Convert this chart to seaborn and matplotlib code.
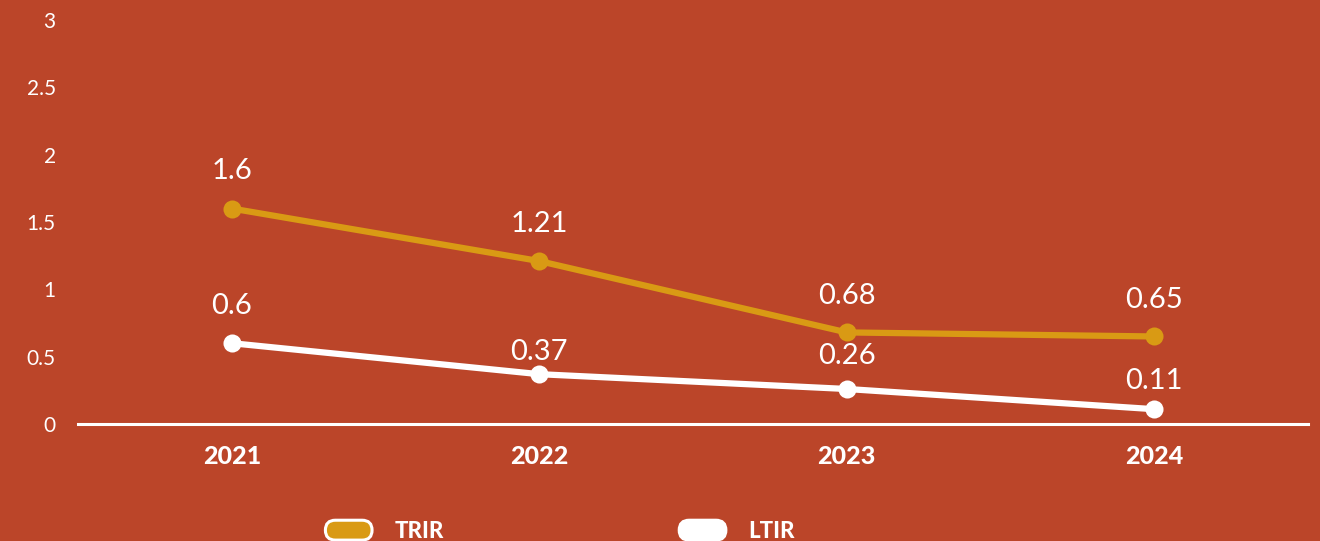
import pandas as pd
import matplotlib.pyplot as plt
import matplotlib.ticker as mticker
from matplotlib.patches import FancyBboxPatch
from matplotlib.legend_handler import HandlerPatch
from matplotlib.patches import Patch
import seaborn as sns

# data
YEARS = ["2021", "2022", "2023", "2024"]
TRIR = [1.6, 1.21, 0.68, 0.65]
LTIR = [0.6, 0.37, 0.26, 0.11]
VALUE_LABELS_TRIR = ["1.6", "1.21", "0.68", "0.65"]
VALUE_LABELS_LTIR = ["0.6", "0.37", "0.26", "0.11"]
Y_TICKS = [0, 0.5, 1, 1.5, 2, 2.5, 3]

# style
BG = "#BB4529"
GOLD = "#D99A14"
WHITE = "#FFFFFF"
LABEL_OFFSETS = {"TRIR": [27, 27, 26, 26], "LTIR": [27, 16, 24, 20]}

sns.set_theme(style="white")
plt.rcParams["font.family"] = ["Lato", "DejaVu Sans"]

df = pd.DataFrame({
    "pos": list(range(len(YEARS))) * 2,
    "value": TRIR + LTIR,
    "metric": ["TRIR"] * len(YEARS) + ["LTIR"] * len(YEARS),
})

fig = plt.figure(figsize=(13.2, 5.41), dpi=100, facecolor=BG)
ax = fig.add_axes([78 / 1320, 1 - 424 / 541, 1230 / 1320, 404 / 541])
ax.set_facecolor(BG)

sns.lineplot(data=df, x="pos", y="value", hue="metric",
             palette={"TRIR": GOLD, "LTIR": WHITE}, hue_order=["TRIR", "LTIR"],
             marker="o", markersize=13, markeredgewidth=0, linewidth=4.5,
             legend=False, ax=ax, zorder=3)

for name, vals, labs in [("TRIR", TRIR, VALUE_LABELS_TRIR),
                         ("LTIR", LTIR, VALUE_LABELS_LTIR)]:
    for i, (v, lab) in enumerate(zip(vals, labs)):
        ax.annotate(lab, (i, v), xytext=(0, LABEL_OFFSETS[name][i]),
                    textcoords="offset points", ha="center", va="center",
                    color=WHITE, fontsize=21, fontweight="normal")

ax.set_xlim(-0.5, len(YEARS) - 0.5)
ax.set_ylim(0, 3)
ax.set_xticks(range(len(YEARS)))
ax.set_xticklabels(YEARS, fontweight="black", fontsize=18, color=WHITE)
ax.set_yticks(Y_TICKS)
ax.yaxis.set_major_formatter(mticker.FuncFormatter(lambda v, _: f"{v:g}"))
ax.tick_params(axis="y", length=0, pad=16, labelsize=15, labelcolor=WHITE)
ax.tick_params(axis="x", length=0, pad=15)
ax.set_xlabel("")
ax.set_ylabel("")
for side in ["top", "right", "left"]:
    ax.spines[side].set_visible(False)
ax.spines["bottom"].set_color(WHITE)
ax.spines["bottom"].set_linewidth(2.2)
ax.spines["bottom"].set_zorder(2)
ax.grid(False)


class RoundHandler(HandlerPatch):
    def create_artists(self, legend, orig_handle, xdescent, ydescent,
                       width, height, fontsize, trans):
        p = FancyBboxPatch((-xdescent, -ydescent), width, height,
                           boxstyle=f"round,pad=0,rounding_size={height / 2}",
                           facecolor=orig_handle.get_facecolor(),
                           edgecolor=WHITE, linewidth=2.2, transform=trans)
        return [p]


handles = [Patch(facecolor=GOLD, label="TRIR"), Patch(facecolor=WHITE, label="LTIR")]
leg = fig.legend(handles=handles, loc="center", ncol=2,
                 bbox_to_anchor=(560 / 1320, 1 - 531 / 541),
                 frameon=False, handlelength=2.1, handleheight=1.0,
                 handletextpad=1.0, columnspacing=10.6,
                 handler_map={Patch: RoundHandler()},
                 prop={"weight": "black", "size": 16})
for t in leg.get_texts():
    t.set_color(WHITE)

fig.savefig("out.png", dpi=100, facecolor=BG)
